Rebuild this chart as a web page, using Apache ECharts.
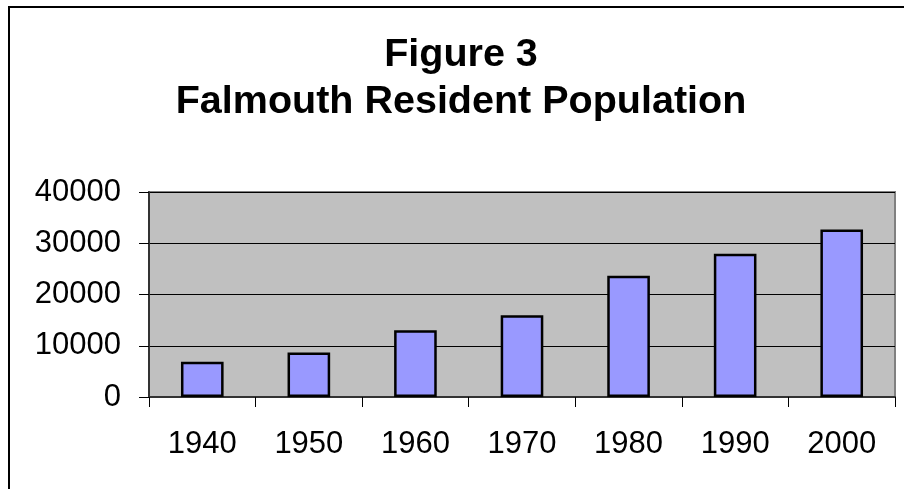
<!DOCTYPE html>
<html lang="en">
<head>
    <meta charset="UTF-8">
    <title>Figure 3</title>
    <script src="https://cdn.jsdelivr.net/npm/echarts@6/dist/echarts.min.js"></script>
    <style>
        html, body { margin: 0; padding: 0; background: #fff; }
    </style>
</head>
<body>
    <div id="chart" style="width: 904px; height: 489px;"></div>
    <script>
        var years = ["1940", "1950", "1960", "1970", "1980", "1990", "2000"];
        var population = [6878, 8662, 13037, 15942, 23640, 27960, 32660];
        var yTicks = { min: 0, max: 40000, step: 10000 };

        var chart = echarts.init(document.getElementById("chart"));
        var font = "Liberation Sans, Arial, sans-serif";

        var option = {
            backgroundColor: "#ffffff",
            animation: false,
            graphic: [
                {
                    // outer chart border, cut by the picture edge on right and bottom
                    type: "rect",
                    shape: { x: 9, y: 7, width: 1000, height: 1000 },
                    style: { fill: "none", stroke: "#000", lineWidth: 2 },
                    silent: true
                }
            ],
            title: {
                text: "Figure 3\nFalmouth Resident Population",
                left: 456,
                top: 27,
                textAlign: "center",
                textStyle: {
                    fontFamily: font,
                    fontSize: 39.5,
                    fontWeight: "bold",
                    color: "#000",
                    lineHeight: 47
                }
            },
            grid: {
                left: 149,
                top: 192,
                right: 9,
                bottom: 92,
                show: true,
                backgroundColor: "#c0c0c0",
                borderColor: "#808080",
                borderWidth: 2
            },
            xAxis: {
                type: "category",
                data: years,
                boundaryGap: true,
                axisLine: { lineStyle: { color: "#333", width: 2 } },
                axisTick: { show: true, length: 10, lineStyle: { color: "#000" } },
                axisLabel: {
                    margin: 32,
                    fontFamily: font,
                    fontSize: 31,
                    color: "#000"
                }
            },
            yAxis: {
                type: "value",
                min: yTicks.min,
                max: yTicks.max,
                interval: yTicks.step,
                axisLine: { show: true, lineStyle: { color: "#333", width: 2 } },
                axisTick: { show: true, length: 10, lineStyle: { color: "#000" } },
                splitLine: { lineStyle: { color: "#000", width: 1 } },
                axisLabel: {
                    margin: 28,
                    fontFamily: font,
                    fontSize: 31,
                    color: "#000",
                    formatter: function (v) { return String(v); }
                }
            },
            series: [
                {
                    type: "bar",
                    data: population,
                    barWidth: "40%",
                    itemStyle: {
                        color: "#9999ff",
                        borderColor: "#000",
                        borderWidth: 2.5
                    }
                }
            ]
        };

        chart.setOption(option);
    </script>
</body>
</html>
